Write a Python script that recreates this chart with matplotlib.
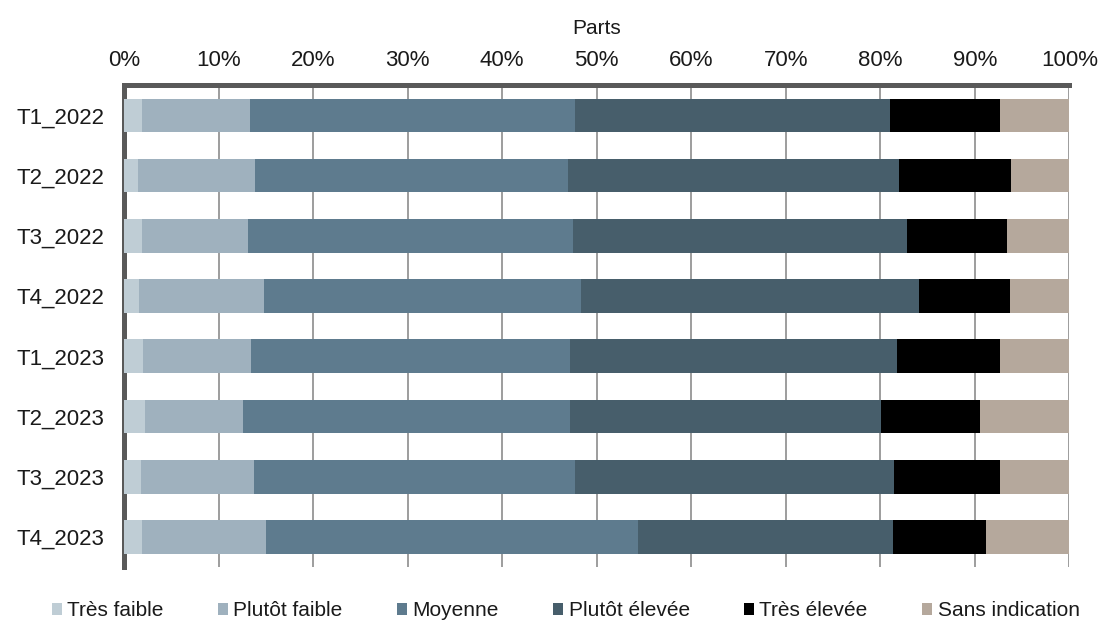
import matplotlib.pyplot as plt
import numpy as np

plt.rcParams['font.family'] = ['Liberation Sans', 'DejaVu Sans']

# trimestres, du haut vers le bas
periodes = ["T1_2022", "T2_2022", "T3_2022", "T4_2022",
            "T1_2023", "T2_2023", "T3_2023", "T4_2023"]

# parts en %
tres_faible = [1.9, 1.5, 1.9, 1.6, 2.0, 2.2, 1.8, 1.9]
plutot_faible = [11.4, 12.4, 11.2, 13.2, 11.4, 10.4, 11.9, 13.1]
moyenne = [34.4, 33.1, 34.4, 33.5, 33.8, 34.6, 34.0, 39.4]
plutot_elevee = [33.3, 35.0, 35.3, 35.8, 34.6, 32.9, 33.7, 26.9]
tres_elevee = [11.6, 11.8, 10.6, 9.6, 10.9, 10.4, 11.2, 9.9]
sans_indication = [7.4, 6.2, 6.6, 6.3, 7.3, 9.5, 7.4, 8.8]

series = [("Très faible", tres_faible, "#bfcdd5"),
          ("Plutôt faible", plutot_faible, "#9fb1be"),
          ("Moyenne", moyenne, "#5e7b8e"),
          ("Plutôt élevée", plutot_elevee, "#475e6b"),
          ("Très élevée", tres_elevee, "#000000"),
          ("Sans indication", sans_indication, "#b5a89c")]

fig = plt.figure(figsize=(11.02, 6.24), dpi=100)
ax = fig.add_axes([0.1125, 0.0913, 0.858, 0.772])

y = np.arange(len(periodes))
left = np.zeros(len(periodes))
for nom, vals, couleur in series:
    vals = np.array(vals)
    ax.barh(y, vals, left=left, height=0.56, color=couleur, label=nom, zorder=3)
    left += vals

ax.set_xlim(0, 100)
ax.set_ylim(len(periodes) - 0.5, -0.5)
ax.set_yticks(y)
ax.set_yticklabels(periodes, fontsize=16, color='#1a1a1a')
ax.set_xticks(np.arange(0, 101, 10))
ax.set_xticklabels([f"{v}%" for v in range(0, 101, 10)], fontsize=16, color='#1a1a1a')
ax.xaxis.tick_top()
ax.xaxis.set_label_position('top')
ax.set_xlabel("Parts", fontsize=15, labelpad=12, color='#1a1a1a')
ax.tick_params(axis='x', length=0, pad=10)
ax.tick_params(axis='y', length=0, pad=14)

ax.grid(axis='x', color='#8c8c8c', linewidth=1.2, zorder=0)
ax.set_axisbelow(True)

for s in ['bottom', 'right']:
    ax.spines[s].set_visible(False)
ax.spines['left'].set_color('#595959')
ax.spines['left'].set_linewidth(3.6)
ax.spines['top'].set_color('#595959')
ax.spines['top'].set_linewidth(3.6)

ax.legend(loc='center', bbox_to_anchor=(0.467, -0.091), ncol=6,
          frameon=False, fontsize=15, handlelength=0.5, handleheight=0.5,
          handletextpad=0.25, columnspacing=2.6, labelcolor='#1a1a1a',
          borderpad=0)

fig.savefig("out.png", dpi=100)
